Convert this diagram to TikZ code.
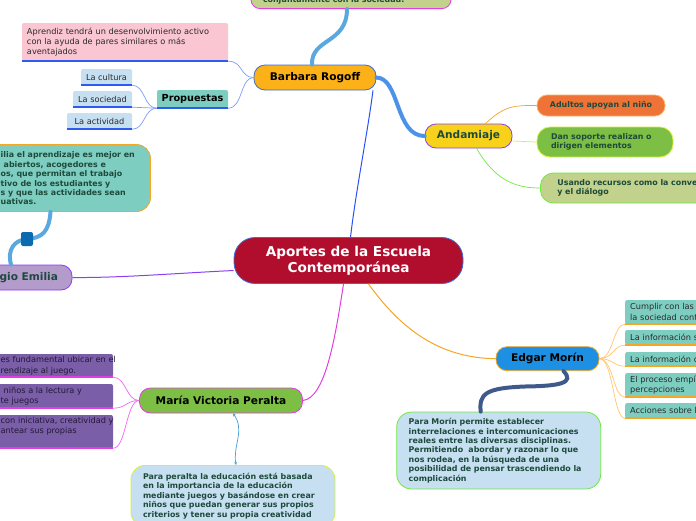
\documentclass[tikz,border=0pt]{standalone}
\usepackage{fontspec}
\setmainfont{DejaVu Sans}
\usetikzlibrary{arrows.meta}

\definecolor{cRed}{HTML}{B10E2E}
\definecolor{cRim}{HTML}{3C6CD6}
\definecolor{cAmber}{HTML}{FBB117}
\definecolor{cGold}{HTML}{F8D21A}
\definecolor{cViolet}{HTML}{8A3FF0}
\definecolor{cText}{HTML}{1D4A3B}
\definecolor{cCoral}{HTML}{EF7236}
\definecolor{cPeach}{HTML}{FFB368}
\definecolor{cGreen}{HTML}{7DBF44}
\definecolor{cLime}{HTML}{D4F23A}
\definecolor{cOlive}{HTML}{C2D18C}
\definecolor{cGrass}{HTML}{6EEA3E}
\definecolor{cMagenta}{HTML}{E23CE2}
\definecolor{cPink}{HTML}{F9C6D2}
\definecolor{cTeal}{HTML}{7ECDC1}
\definecolor{cSky}{HTML}{C6DFF1}
\definecolor{cLine}{HTML}{2F5CF0}
\definecolor{cPeri}{HTML}{7D9CF7}
\definecolor{cLilac}{HTML}{B39BCB}
\definecolor{cOrange}{HTML}{F5A623}
\definecolor{cBlue}{HTML}{1E90E4}
\definecolor{cPlum}{HTML}{7B5EA8}
\definecolor{cPink2}{HTML}{F065F0}
\definecolor{cApricot}{HTML}{FFC46E}
\definecolor{cStream}{HTML}{5BA8DF}
\definecolor{cBranch}{HTML}{4B93EA}
\definecolor{cNavy}{HTML}{0B6BAE}
\definecolor{cSlate}{HTML}{3D5A8A}
\definecolor{cArrow}{HTML}{4AA0CF}
\definecolor{cGrey}{HTML}{2A2A2A}
\definecolor{cDeep}{HTML}{221A36}
\definecolor{cLink}{HTML}{2A52EE}

\begin{document}
\begin{tikzpicture}[x=1pt, y=-1pt,
    topic/.style={draw, rounded corners=11pt, line width=0.8pt, inner sep=0, text=black, font=\bfseries\fontsize{10.6}{12}\selectfont},
    bubble/.style={draw, rounded corners=13pt, line width=0.8pt, inner sep=0, text=cText, font=\bfseries\fontsize{7.9}{9.4}\selectfont},
    tag/.style={rounded corners=2pt, inner sep=0, text=cGrey, font=\fontsize{8.2}{10.3}\selectfont},
    twig/.style={line width=0.7pt},
    limb/.style={line width=4pt, line cap=round},
    rule/.style={line width=1.6pt}]

    \useasboundingbox (0,0) rectangle (696,520);
    \clip (0,0) rectangle (696,520);

    % centre
    \node[topic, fill=cRed, draw=cRim, rounded corners=21pt, minimum width=229pt, minimum height=46pt, text=white, align=center, font=\bfseries\fontsize{13.6}{16}\selectfont] (root) at (348.5,260.5) {Aportes de la Escuela\\Contemporánea};

    % Barbara Rogoff
    \node[topic, fill=cAmber, draw=cRim, minimum width=122pt, minimum height=25pt] (rogoff) at (315,77.5) {Barbara Rogoff};
    \node[bubble, fill=cOlive, draw=cMagenta, rounded corners=9pt, minimum width=200pt, minimum height=17pt, text width=176pt, align=left, anchor=south] (jointly) at (351,9) {conjuntamente con la sociedad.};
    \node[tag, fill=cPink, minimum width=206pt, minimum height=38pt, text width=196pt, align=left] (pink) at (125,42) {Aprendiz tendrá un desenvolvimiento activo\\con la ayuda de pares similares o más\\aventajados};
    \node[tag, fill=cTeal, text=black, minimum width=71pt, minimum height=18pt, font=\bfseries\fontsize{9.7}{11}\selectfont] (prop) at (192.5,99) {Propuestas};
    \node[tag, fill=cSky, minimum width=51pt, minimum height=16pt] (cult) at (106.5,77) {La cultura};
    \node[tag, fill=cSky, minimum width=59pt, minimum height=16pt] (soc) at (102.5,99) {La sociedad};
    \node[tag, fill=cSky, minimum width=65pt, minimum height=16pt] (act) at (99.5,121) {La actividad};

    % Andamiaje
    \node[topic, fill=cGold, draw=cViolet, text=cText, minimum width=87pt, minimum height=24pt] (andam) at (468.5,136) {Andamiaje};
    \node[bubble, fill=cCoral, draw=cPeach, rounded corners=10pt, minimum width=128pt, minimum height=21pt] (adults) at (601,105.5) {Adultos apoyan al niño};
    \node[bubble, fill=cGreen, draw=cLime, minimum width=136pt, minimum height=30pt, text width=108pt, align=left] (support) at (605,142) {Dan soporte realizan o\\dirigen elementos};
    \node[bubble, fill=cOlive, draw=cGrass, minimum width=200pt, minimum height=30pt, text width=166pt, align=left, anchor=west] (resources) at (540,188) {Usando recursos como la conve\\y el diálogo};

    % Reggio Emilia
    \node[topic, fill=cLilac, draw=cViolet, text=cText, minimum width=112pt, minimum height=25pt, text width=84pt, align=right] (reggio) at (16,277.5) {gio Emilia};
    \node[bubble, fill=cTeal, draw=cOrange, rounded corners=14pt, minimum width=200pt, minimum height=67pt] (reggioBox) at (50.5,178) {};
    \node[anchor=west, inner sep=0, align=left, text=cText, font=\bfseries\fontsize{7.9}{9.4}\selectfont] (reggioText) at (0.5,178.5) {ilia el aprendizaje es mejor en\\\hspace*{3pt}abiertos, acogedores e\\os, que permitan el trabajo\\tivo de los estudiantes y\\s y que las actividades sean\\uativas.};

    % María Victoria Peralta
    \node[topic, fill=cGreen, draw=cMagenta, minimum width=163pt, minimum height=25pt] (peralta) at (221,400.5) {María Victoria Peralta};
    \node[tag, fill=cPlum, minimum width=200pt, minimum height=23pt] (pv1) at (13,365.5) {};
    \node[tag, fill=cPlum, minimum width=200pt, minimum height=24pt] (pv2) at (13,396) {};
    \node[tag, fill=cPlum, minimum width=200pt, minimum height=33pt] (pv3) at (13,431.5) {};
    \node[tag, anchor=west, align=left, text=cDeep] (pv1t) at (0.5,365.8) {es fundamental ubicar en el\\rendizaje al juego.};
    \node[tag, anchor=west, align=left, text=cDeep] (pv2t) at (0.5,396.3) {\hspace*{3pt}niños a la lectura y\\te juegos};
    \node[tag, anchor=west, align=left, text=cDeep] (pv3t) at (0.5,426.5) {con iniciativa, creatividad y\\antear sus propias};
    \node[bubble, fill=cSky, draw=cLime, rounded corners=14pt, minimum width=204pt, minimum height=61pt, text width=180pt, align=left, anchor=north] (peraltaNote) at (233,465) {Para peralta la educación está basada\\en la importancia de la educación\\mediante juegos y basándose en crear\\niños que puedan generar sus propios\\criterios y tener su propia creatividad};

    % Edgar Morín
    \node[topic, fill=cBlue, draw=cOrange, minimum width=103pt, minimum height=24pt] (morin) at (547.5,358.7) {Edgar Morín};
    \node[bubble, fill=cSky, draw=cGrass, rounded corners=15pt, minimum width=204pt, minimum height=77pt, text width=180pt, align=left] (morinNote) at (498.7,450.5) {Para Morín permite establecer\\interrelaciones e intercomunicaciones\\reales entre las diversas disciplinas.\\Permitiendo\ \ abordar y razonar lo que\\nos rodea, en la búsqueda de una\\posibilidad de pensar trascendiendo la\\complicación};
    \node[tag, fill=cTeal, anchor=west, minimum width=100pt, minimum height=24pt, text width=90pt, align=left] (r1) at (625,312) {Cumplir con las\\la sociedad conte};
    \node[tag, fill=cTeal, anchor=west, minimum width=100pt, minimum height=15pt, text width=90pt, align=left] (r2) at (625,337.5) {La información s};
    \node[tag, fill=cTeal, anchor=west, minimum width=100pt, minimum height=14pt, text width=90pt, align=left] (r3) at (625,359) {La información o};
    \node[tag, fill=cTeal, anchor=west, minimum width=100pt, minimum height=24pt, text width=90pt, align=left] (r4) at (625,385) {El proceso empír\\percepciones};
    \node[tag, fill=cTeal, anchor=west, minimum width=100pt, minimum height=15pt, text width=90pt, align=left] (r5) at (625,410.5) {Acciones sobre la};

    % underlines
    \foreach \n in {pink,prop,cult,soc,act}
        \draw[rule, cLine] (\n.south west) -- (\n.south east);
    \foreach \n in {pv1,pv2,pv3}
        \draw[rule, cMagenta] (\n.south west) -- (\n.south east);
    \foreach \n in {r1,r2,r3,r4,r5}
        \draw[rule, cOrange] (\n.south west) -- (\n.south east);

    % connectors
    \draw[line width=1pt, cLink] ([xshift=2pt]root.north) .. controls (356,190) and (368,130) .. ([xshift=58pt]rogoff.south);
    \draw[limb, cBranch] (rogoff.east) .. controls (400,78) and (395,136) .. (andam.west);
    \draw[limb, cStream] ([xshift=-3pt]rogoff.north) .. controls (311,38) and (347,44) .. ([xshift=-4pt]jointly.south);
    \draw[twig, cPeri] (rogoff.west) .. controls (240,77.5) and (243,61) .. (pink.south east);
    \draw[twig, cPeri] (rogoff.west) .. controls (240,77.5) and (243,108) .. (prop.south east);
    \foreach \t in {cult,soc,act}
        \draw[twig, cPeri] (prop.south west) .. controls +(-13,0) and +(13,0) .. (\t.south east);

    \draw[twig, cOrange] ([xshift=17pt]andam.north) .. controls (505,105) and (515,105.5) .. (adults.west);
    \draw[twig, cLime] ([yshift=-5pt]andam.east) .. controls (525,141) .. (support.west);
    \draw[twig, cGrass] ([xshift=8pt]andam.south) .. controls (495,180) and (515,188) .. (resources.west);

    \draw[line width=1pt, cViolet] ([yshift=-10pt]root.west) .. controls (180,273) and (120,278) .. (reggio.east);
    \draw[limb, cStream] ([xshift=-5pt]reggio.north) .. controls (7,250) and (14,240) .. (27,239) .. controls (42,238) and (49,232) .. (reggioBox.south);
    \node[fill=cNavy, rounded corners=2pt, minimum width=12pt, minimum height=14pt, inner sep=0] (hub) at (27,239) {};

    \draw[line width=1pt, cMagenta] ([xshift=-5pt]root.south) .. controls (335,340) and (325,398) .. (peralta.east);
    \foreach \b in {pv1,pv2,pv3}
        \draw[twig, cPink2] (peralta.west) .. controls +(-13,0) and +(13,0) .. (\b.south east);
    \draw[twig, cArrow, {Stealth[length=3pt,width=3pt]}-{Stealth[length=3pt,width=3pt]}] ([xshift=12pt]peralta.south) .. controls (245,430) and (233,445) .. ([xshift=3pt]peraltaNote.north);

    \draw[line width=1pt, cOrange] ([xshift=20pt]root.south) .. controls (405,335) and (445,358) .. (morin.west);
    \draw[limb, cSlate] ([xshift=16pt]morin.south) .. controls (575,383) and (560,386) .. (525,386.5) .. controls (485,388) and (479,394) .. ([xshift=-18pt]morinNote.north);
    \foreach \r in {r1,r2,r3,r4,r5}
        \draw[twig, cApricot] (morin.east) .. controls +(14,0) and +(-12,0) .. (\r.south west);
\end{tikzpicture}
\end{document}
